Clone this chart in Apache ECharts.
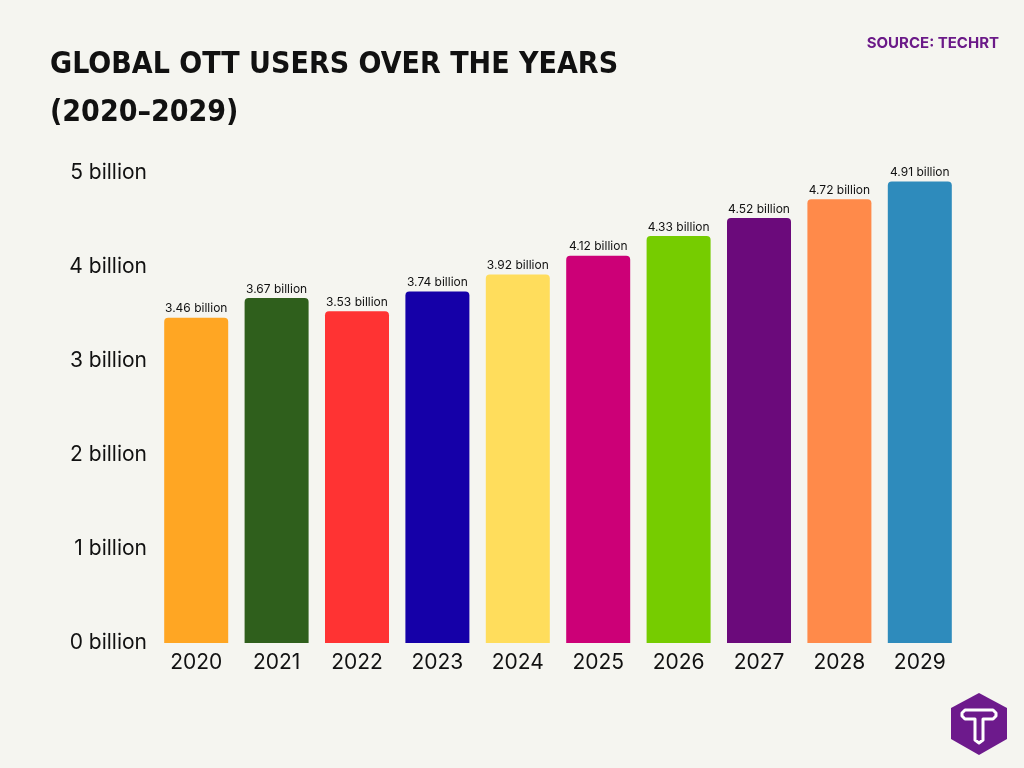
<!DOCTYPE html>
<html><head><meta charset="utf-8">
<script src="https://cdn.jsdelivr.net/npm/echarts@6/dist/echarts.min.js"></script>
<style>html,body{margin:0;padding:0;background:#f5f5f0}#c{width:1024px;height:768px}</style>
</head><body><div id="c"></div>
<script>
const years = ['2020','2021','2022','2023','2024','2025','2026','2027','2028','2029'];
const users = [3.46, 3.67, 3.53, 3.74, 3.92, 4.12, 4.33, 4.52, 4.72, 4.91];
const colors = ['#ffa623','#2f5f1c','#ff3333','#1500a8','#ffdd5c','#cc0077','#76cc00','#6b0a7b','#ff8a4a','#2e8bbc'];
const yTicks = [0,1,2,3,4,5];

const chart = echarts.init(document.getElementById('c'));
chart.setOption({
  backgroundColor:'#f5f5f0',
  animation:false,
  title:[{
    text:'GLOBAL OTT USERS OVER THE YEARS\n(2020–2029)',
    left:45, top:36,
    textStyle:{fontFamily:'DejaVu Sans Condensed', fontWeight:'bold', fontSize:30, lineHeight:48, color:'#111'}
  },{
    text:'SOURCE: TECHRT', right:20, top:31,
    textStyle:{fontFamily:'Inter', fontWeight:'bold', fontSize:15, color:'#6b1a88'}
  }],
  grid:{left:156, right:64, top:173, bottom:125},
  xAxis:{type:'category', data:years,
    axisLine:{show:false}, axisTick:{show:false},
    axisLabel:{fontFamily:'Inter', fontSize:21, color:'#111', margin:9}},
  yAxis:{type:'value', min:yTicks[0], max:yTicks[yTicks.length-1], interval:1,
    splitLine:{show:false}, axisLine:{show:false}, axisTick:{show:false},
    axisLabel:{fontFamily:'Inter', fontSize:21, color:'#111', margin:9, padding:[4,0,0,0], formatter:v=>v+' billion'}},
  series:[{type:'bar', barWidth:64,
    data:users.map((v,i)=>({value:v, itemStyle:{color:colors[i]}})),
    itemStyle:{borderRadius:[4,4,0,0]},
    label:{show:true, position:'top', distance:3, fontFamily:'Inter', fontSize:12, color:'#111', formatter:p=>p.value.toFixed(2)+' billion'}
  }],
  graphic:[
    {type:'polygon', x:951, y:693, shape:{points:[[28,0],[56,15],[56,46],[28,62],[0,46],[0,15]]}, style:{fill:'#6d1a8c'}},
    {type:'polygon', x:951, y:693, shape:{points:[[14,17],[42,17],[45,20],[45,23],[42,26],[32,26],[32,47],[28,50],[24,47],[24,26],[14,26],[11,23],[11,20]]},
       style:{fill:'none', stroke:'#fff', lineWidth:3, lineJoin:'round'}}
  ]
});
</script></body></html>
